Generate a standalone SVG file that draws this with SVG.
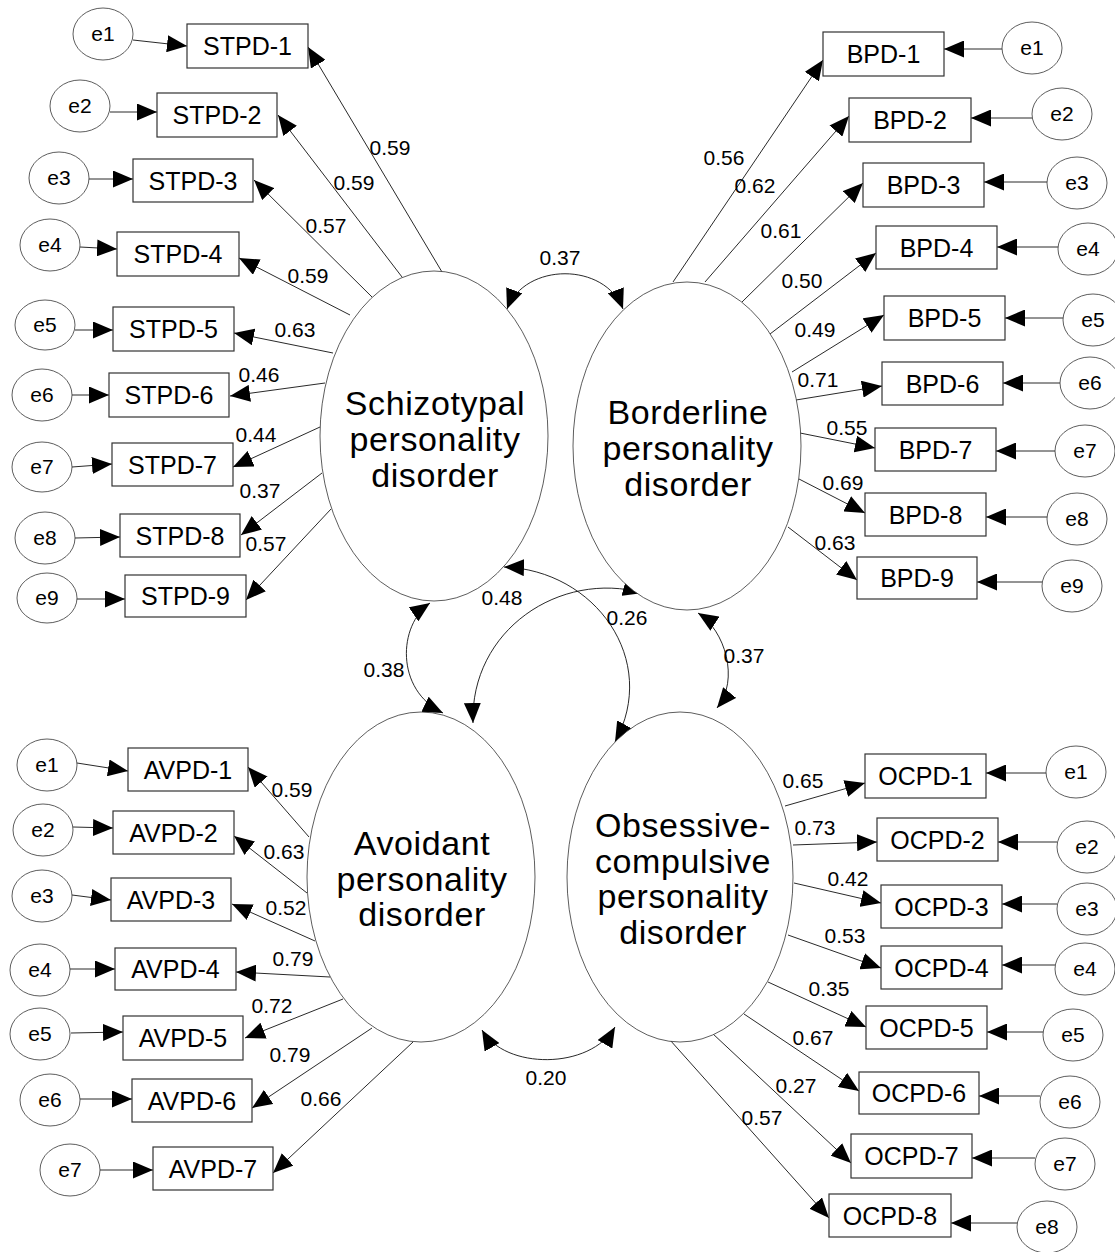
<svg xmlns="http://www.w3.org/2000/svg" width="1115" height="1252" viewBox="0 0 1115 1252">
<style>
text{font-family:"Liberation Sans",Arial,sans-serif;fill:#000;text-anchor:middle}
.box{fill:#fff;stroke:#333;stroke-width:1.2}
.err{fill:#fff;stroke:#333;stroke-width:0.8}
.lat{fill:#fff;stroke:#333;stroke-width:0.8}
.bl{font-size:25px}
.el{font-size:21px}
.lt{font-size:34px;letter-spacing:0.6px}
.cf{font-size:21px}
.c line,.c path{stroke:#111;stroke-width:0.9;fill:none;marker-end:url(#ah)}
.c path.cov{marker-start:url(#ah)}
</style>
<defs>
<marker id="ah" markerWidth="20" markerHeight="17" refX="20" refY="8.5" orient="auto-start-reverse" markerUnits="userSpaceOnUse"><path d="M0,0 L20,8.5 L0,17 Z" fill="#000"/></marker>
</defs>
<rect width="1115" height="1252" fill="#fff"/>

<g id="connectors" class="c">
<!-- STPD factor loadings -->
<line x1="442" y1="272" x2="308" y2="47"/>
<line x1="402" y1="277" x2="278" y2="115"/>
<line x1="372" y1="297" x2="254" y2="180"/>
<line x1="350" y1="315" x2="239" y2="258"/>
<line x1="333" y1="353" x2="234" y2="333"/>
<line x1="325" y1="383" x2="230" y2="396"/>
<line x1="320" y1="427" x2="233" y2="467"/>
<line x1="322" y1="473" x2="241" y2="535"/>
<line x1="331" y1="509" x2="246" y2="600"/>
<!-- STPD errors -->
<line x1="133" y1="40" x2="187" y2="46"/>
<line x1="110" y1="112" x2="157" y2="112"/>
<line x1="89" y1="179" x2="133" y2="179"/>
<line x1="80" y1="247" x2="117" y2="249"/>
<line x1="75" y1="330" x2="113" y2="330"/>
<line x1="72" y1="395" x2="109" y2="395"/>
<line x1="72" y1="467" x2="112" y2="464"/>
<line x1="75" y1="538" x2="120" y2="537"/>
<line x1="77" y1="599" x2="125" y2="599"/>
<!-- BPD factor loadings -->
<line x1="673" y1="282" x2="823" y2="60"/>
<line x1="705" y1="282" x2="849" y2="116"/>
<line x1="742" y1="302" x2="863" y2="183"/>
<line x1="770" y1="334" x2="876" y2="253"/>
<line x1="792" y1="372" x2="884" y2="315"/>
<line x1="796" y1="400" x2="882" y2="386"/>
<line x1="800" y1="433" x2="875" y2="448"/>
<line x1="799" y1="479" x2="865" y2="513"/>
<line x1="788" y1="527" x2="857" y2="580"/>
<!-- BPD errors -->
<line x1="1002" y1="49" x2="944" y2="49"/>
<line x1="1032" y1="118" x2="971" y2="118"/>
<line x1="1047" y1="182" x2="984" y2="182"/>
<line x1="1058" y1="247" x2="997" y2="247"/>
<line x1="1063" y1="318" x2="1005" y2="318"/>
<line x1="1060" y1="383" x2="1003" y2="383"/>
<line x1="1055" y1="451" x2="996" y2="451"/>
<line x1="1047" y1="517" x2="986" y2="517"/>
<line x1="1042" y1="582" x2="977" y2="582"/>
<!-- AVPD factor loadings -->
<line x1="309" y1="837" x2="248" y2="767"/>
<line x1="307" y1="893" x2="234" y2="836"/>
<line x1="315" y1="941" x2="232" y2="904"/>
<line x1="330" y1="977" x2="236" y2="972"/>
<line x1="343" y1="999" x2="245" y2="1038"/>
<line x1="372" y1="1028" x2="252" y2="1108"/>
<line x1="413" y1="1042" x2="273" y2="1173"/>
<!-- AVPD errors -->
<line x1="77" y1="763" x2="128" y2="771"/>
<line x1="73" y1="827" x2="113" y2="828"/>
<line x1="72" y1="895" x2="111" y2="900"/>
<line x1="70" y1="969" x2="115" y2="969"/>
<line x1="71" y1="1033" x2="123" y2="1032"/>
<line x1="80" y1="1099" x2="132" y2="1099"/>
<line x1="100" y1="1170" x2="153" y2="1170"/>
<!-- OCPD factor loadings -->
<line x1="785" y1="806" x2="865" y2="783"/>
<line x1="793" y1="845" x2="877" y2="842"/>
<line x1="794" y1="883" x2="881" y2="903"/>
<line x1="788" y1="935" x2="881" y2="968"/>
<line x1="768" y1="982" x2="866" y2="1027"/>
<line x1="744" y1="1014" x2="859" y2="1091"/>
<line x1="712" y1="1033" x2="851" y2="1163"/>
<line x1="670" y1="1040" x2="829" y2="1218"/>
<!-- OCPD errors -->
<line x1="1046" y1="773" x2="986" y2="773"/>
<line x1="1057" y1="842" x2="998" y2="842"/>
<line x1="1057" y1="904" x2="1002" y2="904"/>
<line x1="1055" y1="965" x2="1002" y2="965"/>
<line x1="1043" y1="1032" x2="987" y2="1032"/>
<line x1="1040" y1="1096" x2="979" y2="1096"/>
<line x1="1035" y1="1158" x2="972" y2="1158"/>
<line x1="1017" y1="1223" x2="951" y2="1223"/>
<!-- covariances -->
<path class="cov" d="M507,309 C525,262 605,262 623,309"/>
<path class="cov" d="M430,603 C398,625 395,690 443,713"/>
<path class="cov" d="M698,613 C725,630 740,680 717,708"/>
<path class="cov" d="M504,567 C595,570 660,660 615,742"/>
<path class="cov" d="M643,593 C560,570 470,630 473,723"/>
<path class="cov" d="M482,1030 C505,1070 590,1070 615,1027"/>
</g>

<g id="coef-labels" class="cf">
<text x="390" y="155">0.59</text>
<text x="354" y="190">0.59</text>
<text x="326" y="233">0.57</text>
<text x="308" y="283">0.59</text>
<text x="295" y="337">0.63</text>
<text x="259" y="382">0.46</text>
<text x="256" y="442">0.44</text>
<text x="260" y="498">0.37</text>
<text x="266" y="551">0.57</text>
<text x="724" y="165">0.56</text>
<text x="755" y="193">0.62</text>
<text x="781" y="238">0.61</text>
<text x="802" y="288">0.50</text>
<text x="815" y="337">0.49</text>
<text x="818" y="387">0.71</text>
<text x="847" y="435">0.55</text>
<text x="843" y="490">0.69</text>
<text x="835" y="550">0.63</text>
<text x="292" y="797">0.59</text>
<text x="284" y="859">0.63</text>
<text x="286" y="915">0.52</text>
<text x="293" y="966">0.79</text>
<text x="272" y="1013">0.72</text>
<text x="290" y="1062">0.79</text>
<text x="321" y="1106">0.66</text>
<text x="803" y="788">0.65</text>
<text x="815" y="835">0.73</text>
<text x="848" y="886">0.42</text>
<text x="845" y="943">0.53</text>
<text x="829" y="996">0.35</text>
<text x="813" y="1045">0.67</text>
<text x="796" y="1093">0.27</text>
<text x="762" y="1125">0.57</text>
<text x="560" y="265">0.37</text>
<text x="502" y="605">0.48</text>
<text x="627" y="625">0.26</text>
<text x="384" y="677">0.38</text>
<text x="744" y="663">0.37</text>
<text x="546" y="1085">0.20</text>
</g>

<!-- Latent variables -->
<g id="STPD">
<ellipse class="lat" cx="434" cy="436" rx="114" ry="165"/>
<text class="lt" x="435" y="415">Schizotypal</text>
<text class="lt" x="435" y="451">personality</text>
<text class="lt" x="435" y="487">disorder</text>
</g>
<g id="BPD">
<ellipse class="lat" cx="687" cy="446" rx="114" ry="164"/>
<text class="lt" x="688" y="424">Borderline</text>
<text class="lt" x="688" y="460">personality</text>
<text class="lt" x="688" y="496">disorder</text>
</g>
<g id="AVPD">
<ellipse class="lat" cx="421" cy="877" rx="114" ry="165"/>
<text class="lt" x="422" y="855">Avoidant</text>
<text class="lt" x="422" y="891">personality</text>
<text class="lt" x="422" y="926">disorder</text>
</g>
<g id="OCPD">
<ellipse class="lat" cx="680" cy="877" rx="113" ry="165"/>
<text class="lt" x="683" y="837">Obsessive-</text>
<text class="lt" x="683" y="873">compulsive</text>
<text class="lt" x="683" y="908">personality</text>
<text class="lt" x="683" y="944">disorder</text>
</g>

<!-- STPD indicators -->
<g id="STPD-1"><rect class="box" x="187" y="24" width="121" height="44"/><text class="bl" x="247.5" y="55">STPD-1</text></g>
<g id="STPD-2"><rect class="box" x="157" y="93" width="120" height="44"/><text class="bl" x="217" y="124">STPD-2</text></g>
<g id="STPD-3"><rect class="box" x="133" y="159" width="120" height="43"/><text class="bl" x="193" y="190">STPD-3</text></g>
<g id="STPD-4"><rect class="box" x="117" y="232" width="122" height="44"/><text class="bl" x="178" y="263">STPD-4</text></g>
<g id="STPD-5"><rect class="box" x="113" y="307" width="121" height="44"/><text class="bl" x="173.5" y="338">STPD-5</text></g>
<g id="STPD-6"><rect class="box" x="109" y="373" width="120" height="44"/><text class="bl" x="169" y="404">STPD-6</text></g>
<g id="STPD-7"><rect class="box" x="112" y="443" width="121" height="43"/><text class="bl" x="172.5" y="474">STPD-7</text></g>
<g id="STPD-8"><rect class="box" x="120" y="514" width="120" height="43"/><text class="bl" x="180" y="545">STPD-8</text></g>
<g id="STPD-9"><rect class="box" x="125" y="575" width="121" height="42"/><text class="bl" x="185.5" y="605">STPD-9</text></g>

<g id="STPD-e1"><ellipse class="err" cx="103" cy="34" rx="30" ry="26"/><text class="el" x="103" y="41">e1</text></g>
<g id="STPD-e2"><ellipse class="err" cx="80" cy="106" rx="30" ry="26"/><text class="el" x="80" y="113">e2</text></g>
<g id="STPD-e3"><ellipse class="err" cx="59" cy="178" rx="30" ry="26"/><text class="el" x="59" y="185">e3</text></g>
<g id="STPD-e4"><ellipse class="err" cx="50" cy="245" rx="30" ry="26"/><text class="el" x="50" y="252">e4</text></g>
<g id="STPD-e5"><ellipse class="err" cx="45" cy="325" rx="30" ry="25"/><text class="el" x="45" y="332">e5</text></g>
<g id="STPD-e6"><ellipse class="err" cx="42" cy="395" rx="30" ry="26"/><text class="el" x="42" y="402">e6</text></g>
<g id="STPD-e7"><ellipse class="err" cx="42" cy="467" rx="30" ry="25"/><text class="el" x="42" y="474">e7</text></g>
<g id="STPD-e8"><ellipse class="err" cx="45" cy="538" rx="30" ry="26"/><text class="el" x="45" y="545">e8</text></g>
<g id="STPD-e9"><ellipse class="err" cx="47" cy="598" rx="30" ry="25"/><text class="el" x="47" y="605">e9</text></g>

<!-- BPD indicators -->
<g id="BPD-1"><rect class="box" x="823" y="32" width="121" height="44"/><text class="bl" x="883.5" y="63">BPD-1</text></g>
<g id="BPD-2"><rect class="box" x="849" y="98" width="122" height="44"/><text class="bl" x="910" y="129">BPD-2</text></g>
<g id="BPD-3"><rect class="box" x="863" y="163" width="121" height="44"/><text class="bl" x="923.5" y="194">BPD-3</text></g>
<g id="BPD-4"><rect class="box" x="876" y="226" width="121" height="43"/><text class="bl" x="936.5" y="257">BPD-4</text></g>
<g id="BPD-5"><rect class="box" x="884" y="296" width="121" height="44"/><text class="bl" x="944.5" y="327">BPD-5</text></g>
<g id="BPD-6"><rect class="box" x="882" y="362" width="121" height="43"/><text class="bl" x="942.5" y="393">BPD-6</text></g>
<g id="BPD-7"><rect class="box" x="875" y="428" width="121" height="43"/><text class="bl" x="935.5" y="459">BPD-7</text></g>
<g id="BPD-8"><rect class="box" x="865" y="493" width="121" height="43"/><text class="bl" x="925.5" y="524">BPD-8</text></g>
<g id="BPD-9"><rect class="box" x="857" y="557" width="120" height="42"/><text class="bl" x="917" y="587">BPD-9</text></g>

<g id="BPD-e1"><ellipse class="err" cx="1032" cy="48" rx="30" ry="26"/><text class="el" x="1032" y="55">e1</text></g>
<g id="BPD-e2"><ellipse class="err" cx="1062" cy="114" rx="30" ry="26"/><text class="el" x="1062" y="121">e2</text></g>
<g id="BPD-e3"><ellipse class="err" cx="1077" cy="183" rx="30" ry="26"/><text class="el" x="1077" y="190">e3</text></g>
<g id="BPD-e4"><ellipse class="err" cx="1088" cy="249" rx="30" ry="26"/><text class="el" x="1088" y="256">e4</text></g>
<g id="BPD-e5"><ellipse class="err" cx="1093" cy="320" rx="30" ry="26"/><text class="el" x="1093" y="327">e5</text></g>
<g id="BPD-e6"><ellipse class="err" cx="1090" cy="383" rx="30" ry="26"/><text class="el" x="1090" y="390">e6</text></g>
<g id="BPD-e7"><ellipse class="err" cx="1085" cy="451" rx="30" ry="26"/><text class="el" x="1085" y="458">e7</text></g>
<g id="BPD-e8"><ellipse class="err" cx="1077" cy="519" rx="30" ry="26"/><text class="el" x="1077" y="526">e8</text></g>
<g id="BPD-e9"><ellipse class="err" cx="1072" cy="586" rx="30" ry="26"/><text class="el" x="1072" y="593">e9</text></g>

<!-- AVPD indicators -->
<g id="AVPD-1"><rect class="box" x="128" y="748" width="120" height="43"/><text class="bl" x="188" y="779">AVPD-1</text></g>
<g id="AVPD-2"><rect class="box" x="113" y="811" width="121" height="43"/><text class="bl" x="173.5" y="842">AVPD-2</text></g>
<g id="AVPD-3"><rect class="box" x="111" y="878" width="120" height="43"/><text class="bl" x="171" y="909">AVPD-3</text></g>
<g id="AVPD-4"><rect class="box" x="115" y="948" width="121" height="42"/><text class="bl" x="175.5" y="978">AVPD-4</text></g>
<g id="AVPD-5"><rect class="box" x="123" y="1016" width="120" height="44"/><text class="bl" x="183" y="1047">AVPD-5</text></g>
<g id="AVPD-6"><rect class="box" x="132" y="1079" width="120" height="43"/><text class="bl" x="192" y="1110">AVPD-6</text></g>
<g id="AVPD-7"><rect class="box" x="153" y="1147" width="120" height="43"/><text class="bl" x="213" y="1178">AVPD-7</text></g>

<g id="AVPD-e1"><ellipse class="err" cx="47" cy="765" rx="30" ry="26"/><text class="el" x="47" y="772">e1</text></g>
<g id="AVPD-e2"><ellipse class="err" cx="43" cy="830" rx="30" ry="26"/><text class="el" x="43" y="837">e2</text></g>
<g id="AVPD-e3"><ellipse class="err" cx="42" cy="896" rx="30" ry="26"/><text class="el" x="42" y="903">e3</text></g>
<g id="AVPD-e4"><ellipse class="err" cx="40" cy="970" rx="30" ry="26"/><text class="el" x="40" y="977">e4</text></g>
<g id="AVPD-e5"><ellipse class="err" cx="40" cy="1034" rx="30" ry="26"/><text class="el" x="40" y="1041">e5</text></g>
<g id="AVPD-e6"><ellipse class="err" cx="50" cy="1100" rx="30" ry="26"/><text class="el" x="50" y="1107">e6</text></g>
<g id="AVPD-e7"><ellipse class="err" cx="70" cy="1170" rx="30" ry="26"/><text class="el" x="70" y="1177">e7</text></g>

<!-- OCPD indicators -->
<g id="OCPD-1"><rect class="box" x="865" y="754" width="121" height="44"/><text class="bl" x="925.5" y="785">OCPD-1</text></g>
<g id="OCPD-2"><rect class="box" x="877" y="818" width="121" height="43"/><text class="bl" x="937.5" y="849">OCPD-2</text></g>
<g id="OCPD-3"><rect class="box" x="881" y="885" width="121" height="43"/><text class="bl" x="941.5" y="916">OCPD-3</text></g>
<g id="OCPD-4"><rect class="box" x="881" y="946" width="121" height="43"/><text class="bl" x="941.5" y="977">OCPD-4</text></g>
<g id="OCPD-5"><rect class="box" x="866" y="1006" width="121" height="43"/><text class="bl" x="926.5" y="1037">OCPD-5</text></g>
<g id="OCPD-6"><rect class="box" x="859" y="1072" width="120" height="42"/><text class="bl" x="919" y="1102">OCPD-6</text></g>
<g id="OCPD-7"><rect class="box" x="851" y="1134" width="121" height="44"/><text class="bl" x="911.5" y="1165">OCPD-7</text></g>
<g id="OCPD-8"><rect class="box" x="829" y="1194" width="122" height="43"/><text class="bl" x="890" y="1225">OCPD-8</text></g>

<g id="OCPD-e1"><ellipse class="err" cx="1076" cy="772" rx="30" ry="26"/><text class="el" x="1076" y="779">e1</text></g>
<g id="OCPD-e2"><ellipse class="err" cx="1087" cy="847" rx="30" ry="26"/><text class="el" x="1087" y="854">e2</text></g>
<g id="OCPD-e3"><ellipse class="err" cx="1087" cy="909" rx="30" ry="26"/><text class="el" x="1087" y="916">e3</text></g>
<g id="OCPD-e4"><ellipse class="err" cx="1085" cy="969" rx="30" ry="26"/><text class="el" x="1085" y="976">e4</text></g>
<g id="OCPD-e5"><ellipse class="err" cx="1073" cy="1035" rx="30" ry="26"/><text class="el" x="1073" y="1042">e5</text></g>
<g id="OCPD-e6"><ellipse class="err" cx="1070" cy="1102" rx="30" ry="26"/><text class="el" x="1070" y="1109">e6</text></g>
<g id="OCPD-e7"><ellipse class="err" cx="1065" cy="1164" rx="30" ry="26"/><text class="el" x="1065" y="1171">e7</text></g>
<g id="OCPD-e8"><ellipse class="err" cx="1047" cy="1227" rx="30" ry="26"/><text class="el" x="1047" y="1234">e8</text></g>
</svg>
